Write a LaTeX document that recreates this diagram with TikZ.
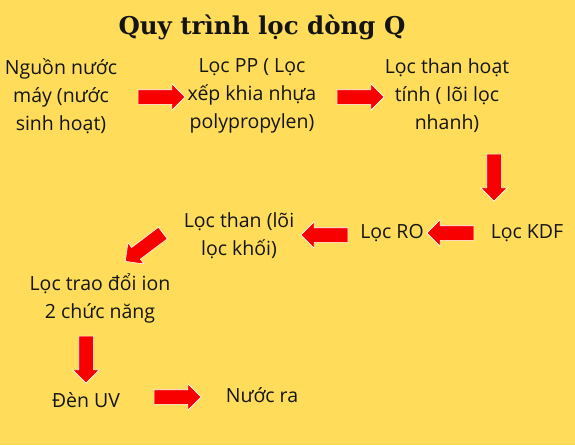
\documentclass[tikz,border=0pt]{standalone}
\usepackage{fontspec}
\setmainfont{Open Sans}
\newfontfamily\titlefont{DejaVu Serif}
\usetikzlibrary{shapes.arrows}
\definecolor{bgyellow}{HTML}{FFDD5A}
\definecolor{arrowred}{HTML}{F80000}
\tikzset{every node/.style={draw=none,inner sep=0pt,align=center,text=black!92,font=\fontsize{19.5}{28}\selectfont},
  blockarrow/.style={single arrow,fill=arrowred,draw=white,line width=0.6pt,inner sep=0pt,inner ysep=7pt,minimum height=47pt,single arrow head extend=6pt}}

\begin{document}
\begin{tikzpicture}[x=1pt,y=-1pt]
  \fill[bgyellow] (0,0) rectangle (575,445);
  \useasboundingbox (0,0) rectangle (575,445);
  \node[font=\titlefont\bfseries\fontsize{24.5}{28}\selectfont] (title) at (262,27) {Quy trình lọc dòng Q};

  \node (src) at (61,96) {Nguồn nước\\máy (nước\\sinh hoạt)};
  \node (pp) at (252,96) {Lọc PP ( Lọc\\xếp khia nhựa\\polypropylen)};
  \node (act) at (447,96) {Lọc than hoạt\\tính ( lõi lọc\\nhanh)};
  \node (kdf) at (527,233) {Lọc KDF};
  \node (ro) at (392,233) {Lọc RO};
  \node (blk) at (239,236) {Lọc than (lõi\\lọc khối)};
  \node (ion) at (100,298) {Lọc trao đổi ion\\2 chức năng};
  \node (uv) at (86,400) {Đèn UV};
  \node (out) at (262,395) {Nước ra};

% block arrows between the steps
\foreach \n/\x/\y/\r in {a1/158/97/0,a2/357/97/0,a3/494/174/-90,a4/454/233/180,a5/328/235/180,a6/147/245/217,a7/86/356/-90,a8/174/397/0}
  \node[blockarrow,rotate=\r] (\n) at (\x,\y) {};
\end{tikzpicture}
\end{document}
